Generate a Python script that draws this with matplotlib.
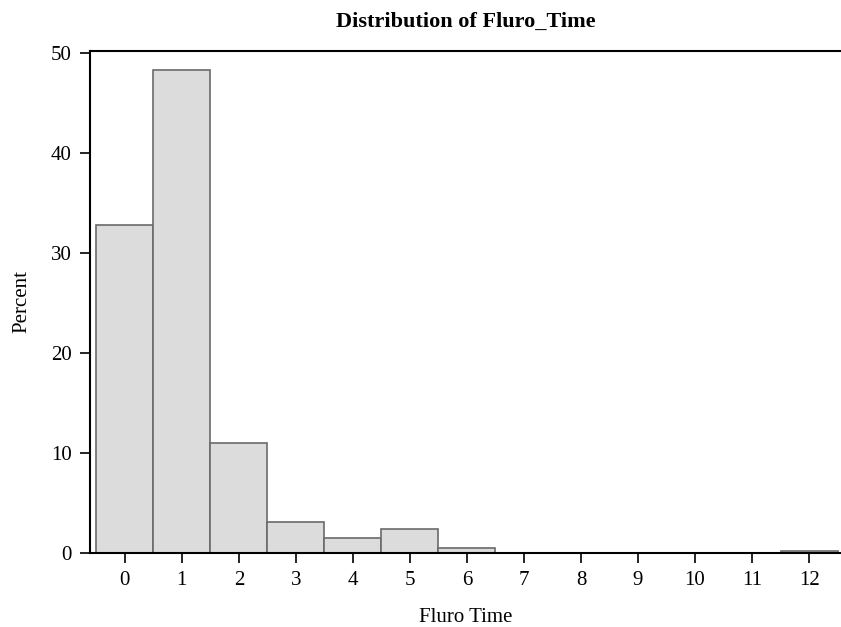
import numpy as np
import matplotlib.pyplot as plt

plt.rcParams['font.family'] = ['Liberation Serif', 'DejaVu Serif']

bins = np.arange(0, 13)
percent = [32.8, 48.3, 11.0, 3.05, 1.47, 2.37, 0.5, 0, 0, 0, 0, 0, 0.18]
xticks = list(range(0, 13))

fig = plt.figure(figsize=(8.41, 6.27), dpi=100)
ax = fig.add_axes([90 / 841, 74 / 627, 751 / 841, 502.5 / 627])

ax.bar(bins, percent, width=1.0, color="#dcdcdc", edgecolor="#6a6a6a", linewidth=1.2)

ax.set_xlim(-0.61, 12.56)
ax.set_ylim(0, 50.2)
ax.set_xticks(xticks)
ax.set_yticks([0, 10, 20, 30, 40, 50])
ax.tick_params(direction="out", length=7, width=1.2, labelsize=15, pad=6)
ax.spines["right"].set_visible(False)
for s in ["left", "bottom", "top"]:
    ax.spines[s].set_linewidth(1.5)

ax.set_title("Distribution of Fluro_Time", fontsize=16, fontweight="bold", pad=17)
ax.set_xlabel("Fluro Time", fontsize=15, labelpad=13)
ax.set_ylabel("Percent", fontsize=15, labelpad=14)

fig.savefig("out.png", dpi=100)
